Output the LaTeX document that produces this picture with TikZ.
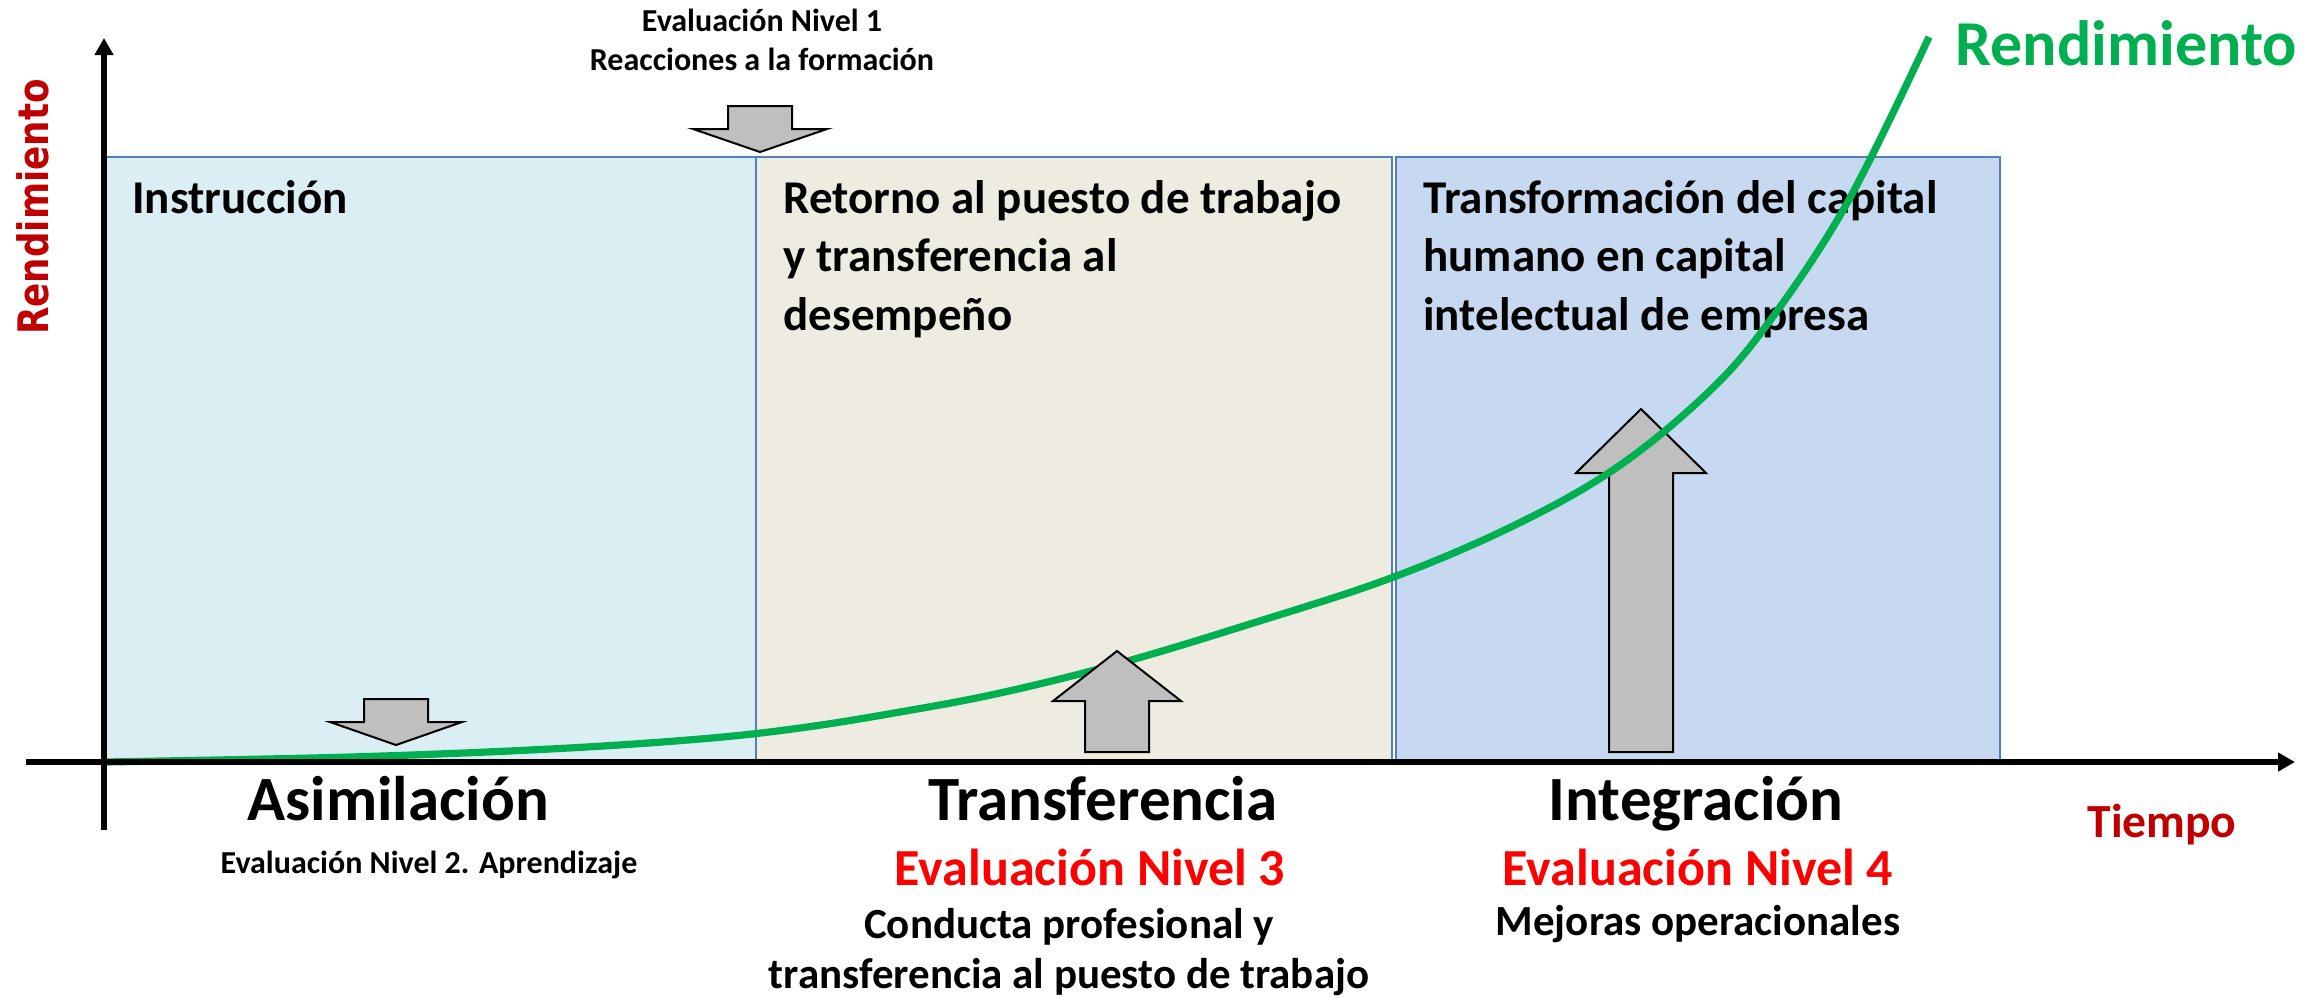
\documentclass[tikz,border=0pt]{standalone}
\usepackage{fontspec}
\setmainfont{Carlito}
\newfontfamily\axisfont{DejaVu Sans}
\usetikzlibrary{arrows.meta}

\definecolor{boxblue}{HTML}{DAEEF3}
\definecolor{boxbeige}{HTML}{EEECE1}
\definecolor{boxsteel}{HTML}{C6D9F1}
\definecolor{boxedge}{HTML}{4F81BD}
\definecolor{perfgreen}{HTML}{00B050}
\definecolor{darkred}{HTML}{C00000}
\definecolor{arrowgray}{HTML}{BFBFBF}

\begin{document}
\begin{tikzpicture}[x=0.5pt,y=-0.5pt,
  stage/.style={draw=boxedge, line width=0.75pt},
  boxtitle/.style={font=\fontsize{23.5}{29.25}\selectfont\bfseries, align=left, anchor=base west, inner sep=0pt},
  phase/.style={font=\fontsize{31.5}{36}\selectfont\bfseries, anchor=base, inner sep=0pt},
  evalred/.style={font=\fontsize{26}{30}\selectfont\bfseries, text=red, anchor=base, inner sep=0pt},
  evalnote/.style={font=\fontsize{21.5}{25}\selectfont\bfseries, align=center, anchor=base, inner sep=0pt},
  smallnote/.style={font=\fontsize{16}{19.5}\selectfont\bfseries, align=center, anchor=base, inner sep=0pt},
  grayarrow/.style={fill=arrowgray, draw=black, line width=1pt, line join=miter},
  axis/.style={line width=2.6pt, -{Triangle[width=9pt,length=8.5pt]}}]
\useasboundingbox (0,0) rectangle (2321,997);

% stages
\fill[boxblue] (104,157) rectangle (756,762);
\draw[stage] (104,157) rectangle (756,762);
\fill[boxbeige] (756,157) rectangle (1392,762);
\draw[stage] (756,157) rectangle (1392,762);
\fill[boxsteel] (1396,157) rectangle (2000,762);
\draw[stage] (1396,157) rectangle (2000,762);

% multi-line nodes sit on the baseline of their last line
\node[boxtitle] (instr) at (132,213) {Instrucción};
\node[boxtitle] (retorno) at (783,330) {Retorno al puesto de trabajo\\y transferencia al\\desempeño};
\node[boxtitle] (transf) at (1423,330) {Transformación del capital\\humano en capital\\intelectual de empresa};

% arrow under the curve
\draw[grayarrow] (1609,752) -- (1609,473) -- (1576,473) -- (1641,409) -- (1706,473) -- (1673,473) -- (1673,752) -- cycle;

% performance curve
\draw[perfgreen, line width=3.6pt] plot[smooth, tension=0.6] coordinates {
  (104,762) (350,757) (550,749) (700,739) (800,728) (900,712) (1000,693)
  (1117,664) (1250,624) (1391,578) (1513,526) (1613,470) (1700,400)
  (1763,330) (1846,205) (1929,37)};

% other arrows
\draw[grayarrow] (1085,752) -- (1085,701) -- (1053,701) -- (1117,651) -- (1181,701) -- (1149,701) -- (1149,752) -- cycle;
\draw[grayarrow] (728,106) -- (792,106) -- (792,129) -- (827,129) -- (760,152) -- (693,129) -- (728,129) -- cycle;
\draw[grayarrow] (364,699) -- (428,699) -- (428,722) -- (462,722) -- (396,745) -- (330,722) -- (364,722) -- cycle;

% axes
\coordinate (xstart) at (26,762);
\coordinate (xend) at (2295,762);
\coordinate (ystart) at (104,830);
\coordinate (yend) at (104,38);
\draw[axis] (xstart) -- (xend);
\draw[axis] (ystart) -- (yend);

% labels
\node[rotate=90, anchor=base, inner sep=0pt, text=darkred, font=\axisfont\bfseries\fontsize{21}{25}\selectfont] (ylabel) at (48,207) {\scalebox{0.85}[1]{Rendimiento}};
\node[anchor=base west, inner sep=0pt, text=perfgreen, font=\fontsize{32}{36}\selectfont\bfseries] (curvelabel) at (1955,65) {Rendimiento};
\node[anchor=base, inner sep=0pt, text=darkred, font=\fontsize{23.8}{28}\selectfont\bfseries] (xlabel) at (2162,837) {Tiempo};

\node[smallnote] (nivel1) at (762,70) {Evaluación Nivel 1\\Reacciones a la formación};

\node[phase] (asim) at (398,820) {Asimilación};
\node[phase] (transfer) at (1103,820) {Transferencia};
\node[phase] (integ) at (1696,820) {Integración};

\node[smallnote] (nivel2) at (429,873) {Evaluación Nivel 2. Aprendizaje};
\node[evalred] (nivel3) at (1090,885) {Evaluación Nivel 3};
\node[evalnote] (conducta) at (1069,988) {Conducta profesional y\\transferencia al puesto de trabajo};
\node[evalred] (nivel4) at (1698,885) {Evaluación Nivel 4};
\node[evalnote] (mejoras) at (1698,935) {Mejoras operacionales};
\end{tikzpicture}
\end{document}
